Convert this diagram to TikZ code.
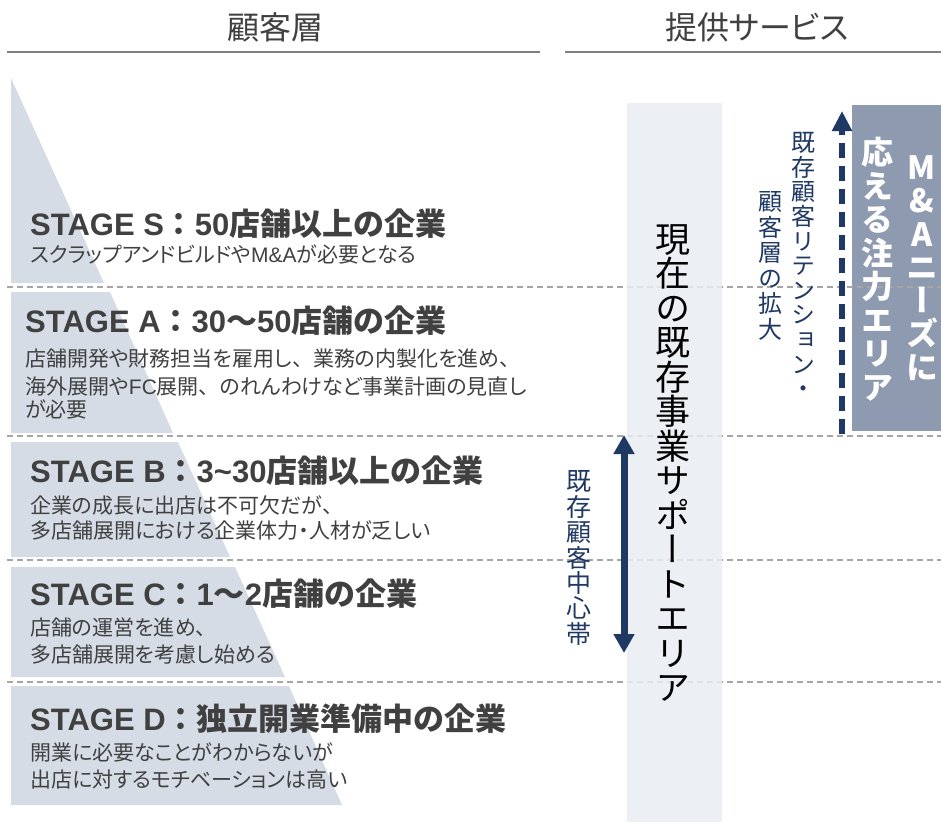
\documentclass[tikz,border=0pt]{standalone}
\usepackage{fontspec}
\setmainfont{Noto Sans CJK JP}[RawFeature={+palt}]
\newfontfamily\jpn{Noto Sans CJK JP}
\newfontfamily\lat{Liberation Sans}
\newfontfamily\vjp{Noto Sans CJK JP}[RawFeature={+vert}]
\usetikzlibrary{arrows.meta}
\definecolor{bandc}{HTML}{D6DCE5}
\definecolor{colc}{HTML}{E9ECF1}
\definecolor{mabox}{HTML}{8E9AAF}
\definecolor{navy}{HTML}{1F3864}
\definecolor{txt}{HTML}{404040}
\definecolor{hdr}{HTML}{404040}
\definecolor{dashc}{HTML}{A6A6A6}
\definecolor{hline}{HTML}{7F7F7F}
\newcommand\ten{{\jpn 、}}
\makeatletter
\newcommand\vstk[2]{\vbox{\baselineskip=#1\lineskiplimit=-\maxdimen\lineskip=0pt\vst@#2\@nil}}
\def\vst@#1{\ifx#1\@nil\else\hbox to 1.1em{\hss#1\hss}\expandafter\vst@\fi}
\makeatother
\begin{document}
\begin{tikzpicture}[x=1pt,y=-1pt,
  band/.style={fill=bandc,draw=none},
  sepline/.style={draw=dashc,line width=1.3pt,dash pattern=on 6pt off 4pt},
  hdrline/.style={draw=hline,line width=1.4pt},
  hdrtext/.style={inner sep=0,text=hdr,font=\fontsize{32}{32}\selectfont},
  title/.style={anchor=base west,inner sep=0,text=txt,font=\jpn\fontsize{31}{34}\selectfont\bfseries},
  sub/.style={anchor=base west,inner sep=0,text=txt,font=\fontsize{21}{26}\selectfont},
  vtxt/.style={inner sep=0,anchor=center}
]
\useasboundingbox (0,0) rectangle (941,822);
% headers
\node[hdrtext] (h1) at (275,27) {顧客層};
\node[hdrtext] (h2) at (757,27) {提供サービス};
\draw[hdrline] (7,52) -- (540,52);
\draw[hdrline] (565,52) -- (941,52);
% bands
\fill[band] (11,78) -- (11,283) -- (104,283) -- cycle;
\fill[band] (11,292) -- (11,433) -- (173,433) -- (110,292) -- cycle;
\fill[band] (11,442) -- (11,557) -- (230,557) -- (178,442) -- cycle;
\fill[band] (11,567) -- (11,677) -- (285,677) -- (235,567) -- cycle;
\fill[band] (11,686) -- (11,805) -- (342,805) -- (289,686) -- cycle;
% M&A box, separators, middle column
\fill[mabox] (852,105) rectangle (941,431);
\foreach \yy in {287,436,560,682} \draw[sepline] (7,\yy) -- (941,\yy);
\fill[colc,opacity=0.85] (627,103) rectangle (722,822);
% stage texts
\node[title] (ts) at (30,235) {{\lat STAGE S}：{\lat 50}店舗以上の企業};
\node[sub] (s1) at (30,262) {スクラップアンドビルドや{\lat M\&A}が必要となる};
\node[title] (ta) at (25,332) {{\lat STAGE A}：{\lat 30}～{\lat 50}店舗の企業};
\node[sub] (a1) at (25,366) {店舗開発や財務担当を雇用し\ten 業務の内製化を進め\ten};
\node[sub] (a2) at (25,394) {海外展開や{\lat FC}展開\ten のれんわけなど事業計画の見直し};
\node[sub] (a3) at (25,417) {が必要};
\node[title] (tb) at (30,482) {{\lat STAGE B}：{\lat 3\textasciitilde 30}店舗以上の企業};
\node[sub] (b1) at (30,513) {企業の成長に出店は不可欠だが\ten};
\node[sub] (b2) at (30,538) {多店舗展開における企業体力・人材が乏しい};
\node[title] (tc) at (30,605) {{\lat STAGE C}：{\lat 1}～{\lat 2}店舗の企業};
\node[sub] (c1) at (30,635) {店舗の運営を進め\ten};
\node[sub] (c2) at (30,662) {多店舗展開を考慮し始める};
\node[title] (td) at (30,730) {{\lat STAGE D}：独立開業準備中の企業};
\node[sub] (d1) at (30,760) {開業に必要なことがわからないが};
\node[sub] (d2) at (30,787) {出店に対するモチベーションは高い};
% vertical texts
\node[vtxt,text=black,font=\vjp\fontsize{35}{35}\selectfont] (mid) at (673,463) {\vstk{34.5pt}{現在の既存事業サポートエリア}};
\node[vtxt,text=navy,font=\vjp\fontsize{25}{25}\selectfont] (core) at (579,558) {\vstk{25.4pt}{既存顧客中心帯}};
\node[vtxt,text=navy,font=\vjp\fontsize{24}{24}\selectfont] (ret1) at (803,265) {\vstk{24.6pt}{既存顧客リテンション・}};
\node[vtxt,text=navy,font=\vjp\fontsize{24}{24}\selectfont] (ret2) at (770,266) {\vstk{25.5pt}{顧客層の拡大}};
\node[vtxt,text=white,font=\vjp\fontsize{32}{32}\selectfont\bfseries] (ma2) at (877,269) {\vstk{33.5pt}{応える注力エリア}};
\node[vtxt,text=white,font=\vjp\fontsize{32}{32}\selectfont\bfseries] (ma1) at (922,268) {\vstk{33.3pt}{M\&Aニーズに}};
% arrows
\coordinate (da1) at (624,435);
\coordinate (da2) at (624,653);
\draw[navy,line width=7pt,{Triangle[width=20pt,length=19pt]}-{Triangle[width=20pt,length=19pt]}] (da1) -- (da2);
\coordinate (ua1) at (842,434);
\coordinate (ua2) at (842,111);
\draw[navy,line width=6pt,dash pattern=on 15pt off 8pt,-{Triangle[width=19pt,length=20pt]}] (ua1) -- (ua2);
\end{tikzpicture}
\end{document}
